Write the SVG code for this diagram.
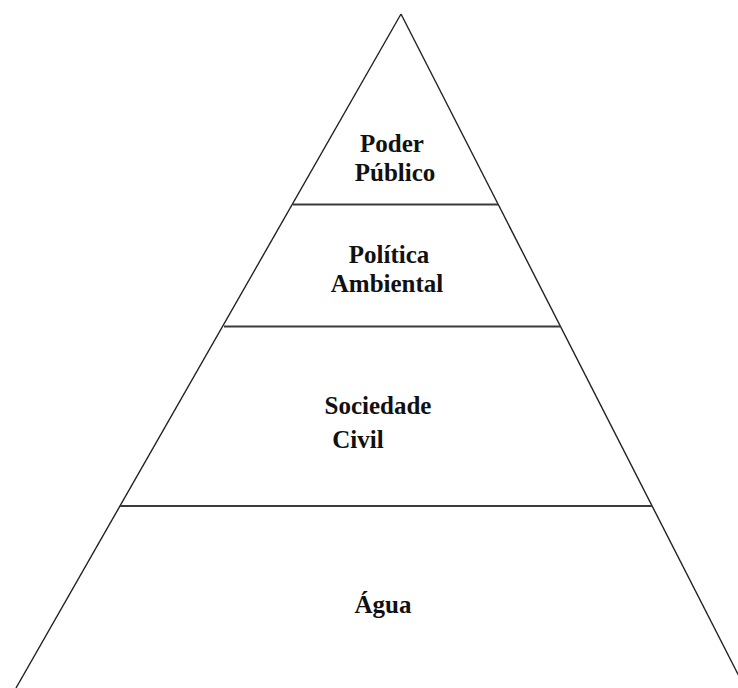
<svg xmlns="http://www.w3.org/2000/svg" width="738" height="688" viewBox="0 0 738 688">
  <style>
    .side { stroke: #222; stroke-width: 1.4; fill: none; }
    .tier { stroke: #3a3a3a; stroke-width: 2; fill: none; }
    .label { font-family: "Liberation Serif", "Times New Roman", serif; font-weight: bold; font-size: 25px; fill: #111; text-anchor: middle; }
  </style>
  <rect width="738" height="688" fill="#ffffff"/>
  <g id="connectors">
    <!-- pyramid outline -->
    <line class="side" x1="401" y1="14" x2="16" y2="688"/>
    <line class="side" x1="401" y1="14" x2="745" y2="688"/>
    <!-- tier dividers -->
    <line class="tier" x1="293" y1="204.5" x2="498" y2="204.5"/>
    <line class="tier" x1="224" y1="326.5" x2="560" y2="326.5"/>
    <line class="tier" x1="120" y1="506" x2="652" y2="506"/>
  </g>
  <g id="poder-publico">
    <text class="label" x="392" y="152">Poder</text>
    <text class="label" x="395" y="181">Público</text>
  </g>
  <g id="politica-ambiental">
    <text class="label" x="389" y="263">Política</text>
    <text class="label" x="387" y="292">Ambiental</text>
  </g>
  <g id="sociedade-civil">
    <text class="label" x="378" y="414">Sociedade</text>
    <text class="label" x="358" y="448">Civil</text>
  </g>
  <g id="agua">
    <text class="label" x="383" y="613">Água</text>
  </g>
</svg>
